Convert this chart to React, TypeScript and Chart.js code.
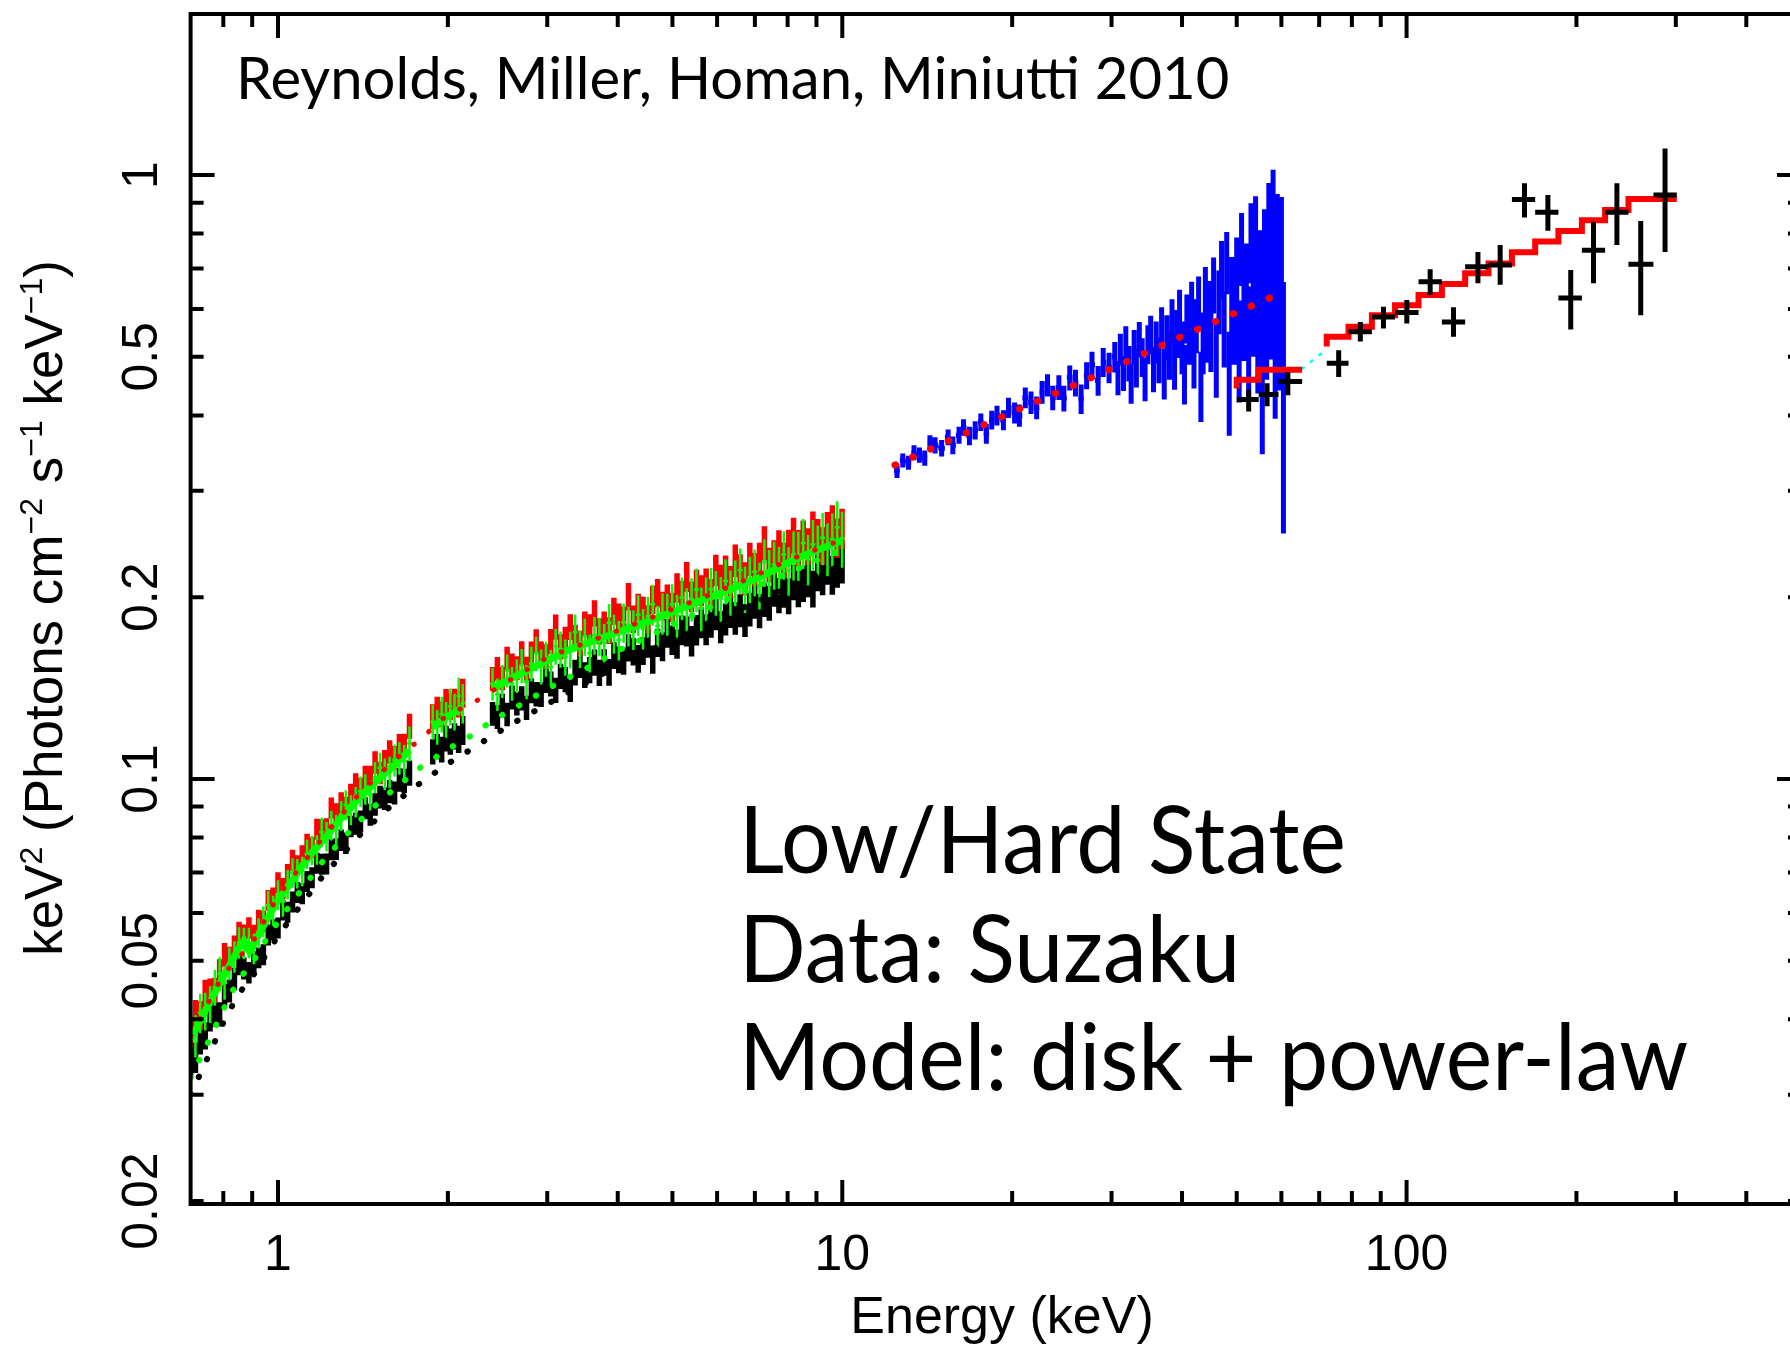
import React, { useEffect, useRef } from "react";
import { Chart, registerables } from "chart.js";

Chart.register(...registerables);

// ---------------- axis ranges ----------------
const X_MIN = 0.7;
const X_MAX = 500;
const Y_MIN = 0.01978;
const Y_MAX = 1.848;

const xMajorTicks = [1, 10, 100];
const xMinorTicks = [0.8, 0.9, 2, 3, 4, 5, 6, 7, 8, 9, 20, 30, 40, 50, 60, 70, 80, 90, 200, 300, 400, 500];
const xTickLabels = ["1", "10", "100"];
const yMajorTicks = [0.1, 1];
const yMinorTicks = [0.02, 0.03, 0.04, 0.05, 0.06, 0.07, 0.08, 0.09, 0.2, 0.3, 0.4, 0.5, 0.6, 0.7, 0.8, 0.9];
const yLabelValues = [1, 0.5, 0.2, 0.1, 0.05, 0.02];
const yTickLabels = ["1", "0.5", "0.2", "0.1", "0.05", "0.02"];

// ---------------- Suzaku XIS (0.7-10 keV) ----------------
const xisEnergy = [
  0.700, 0.714, 0.728, 0.743, 0.758, 0.773, 0.788, 0.804, 0.820, 0.837, 0.853, 0.870, 0.888, 0.906, 0.924, 0.942,
  0.961, 0.980, 1.000, 1.020, 1.040, 1.061, 1.082, 1.104, 1.126, 1.149, 1.172, 1.195, 1.219, 1.243, 1.268, 1.294,
  1.319, 1.346, 1.373, 1.400, 1.428, 1.457, 1.486, 1.516, 1.546, 1.577, 1.609, 1.641, 1.674, 1.710,
  1.880, 1.915, 1.950, 1.985, 2.020, 2.055, 2.090, 2.125,
  2.400, 2.448, 2.497, 2.547, 2.598, 2.650, 2.703, 2.757, 2.812, 2.868, 2.926, 2.984, 3.044, 3.105, 3.167, 3.230,
  3.295, 3.361, 3.428, 3.497, 3.567, 3.638, 3.711, 3.785, 3.861, 3.938, 4.017, 4.097, 4.179, 4.263, 4.348, 4.435,
  4.524, 4.614, 4.707, 4.801, 4.897, 4.995, 5.095, 5.197, 5.300, 5.406, 5.515, 5.625, 5.737, 5.852, 5.969, 6.089,
  6.211, 6.335, 6.462, 6.591, 6.723, 6.857, 6.994, 7.134, 7.277, 7.422, 7.571, 7.722, 7.877, 8.034, 8.195, 8.359,
  8.526, 8.697, 8.870, 9.048, 9.229, 9.413, 9.602, 9.794, 9.990,
];
const xisGreen = [
  0.0374, 0.0376, 0.0410, 0.0413, 0.0424, 0.0452, 0.0476, 0.0460, 0.0495, 0.0508, 0.0536, 0.0535, 0.0536, 0.0524, 0.0556, 0.0581,
  0.0618, 0.0606, 0.0643, 0.0627, 0.0669, 0.0700, 0.0698, 0.0704, 0.0751, 0.0763, 0.0764, 0.0817, 0.0804, 0.0838, 0.0825, 0.0870,
  0.0906, 0.0889, 0.0917, 0.0954, 0.0962, 0.0941, 0.1007, 0.1044, 0.1020, 0.1027, 0.1075, 0.1083, 0.1070, 0.1146,
  0.1244, 0.1220, 0.1281, 0.1256, 0.1319, 0.1293, 0.1372, 0.1336,
  0.1438, 0.1381, 0.1453, 0.1512, 0.1440, 0.1483, 0.1541, 0.1449, 0.1553, 0.1614, 0.1536, 0.1582, 0.1533, 0.1659, 0.1641, 0.1592,
  0.1639, 0.1749, 0.1644, 0.1722, 0.1617, 0.1730, 0.1723, 0.1683, 0.1814, 0.1741, 0.1699, 0.1817, 0.1793, 0.1769, 0.1871, 0.1775,
  0.1859, 0.1946, 0.1794, 0.1881, 0.1876, 0.1946, 0.1865, 0.1995, 0.1913, 0.1986, 0.2060, 0.1916, 0.1988, 0.2062, 0.2036, 0.1990,
  0.2127, 0.2039, 0.2117, 0.2216, 0.2065, 0.2144, 0.2203, 0.2094, 0.2288, 0.2199, 0.2264, 0.2219, 0.2354, 0.2215, 0.2350, 0.2346,
  0.2460, 0.2314, 0.2448, 0.2395, 0.2508, 0.2408, 0.2497, 0.2611, 0.2504,
];
const xisRed = [
  0.0381, 0.0407, 0.0406, 0.0442, 0.0445, 0.0447, 0.0481, 0.0512, 0.0505, 0.0528, 0.0557, 0.0551, 0.0567, 0.0551, 0.0584, 0.0581,
  0.0630, 0.0636, 0.0674, 0.0659, 0.0695, 0.0734, 0.0719, 0.0747, 0.0780, 0.0770, 0.0826, 0.0825, 0.0828, 0.0896, 0.0876, 0.0913,
  0.0898, 0.0943, 0.0981, 0.0963, 0.1009, 0.1009, 0.1066, 0.1024, 0.1071, 0.1110, 0.1086, 0.1136, 0.1136, 0.1224,
  0.1269, 0.1306, 0.1281, 0.1344, 0.1319, 0.1344, 0.1333, 0.1389,
  0.1466, 0.1524, 0.1468, 0.1585, 0.1542, 0.1527, 0.1616, 0.1524, 0.1614, 0.1691, 0.1614, 0.1597, 0.1691, 0.1786, 0.1657, 0.1705,
  0.1787, 0.1716, 0.1678, 0.1806, 0.1785, 0.1883, 0.1757, 0.1803, 0.1763, 0.1898, 0.1857, 0.1835, 0.2006, 0.1841, 0.1925, 0.1902,
  0.1841, 0.1983, 0.2034, 0.1936, 0.1989, 0.1927, 0.2074, 0.2014, 0.2164, 0.2005, 0.2099, 0.2054, 0.2107, 0.2022, 0.2218, 0.2133,
  0.2209, 0.2122, 0.2303, 0.2216, 0.2149, 0.2314, 0.2225, 0.2310, 0.2462, 0.2265, 0.2331, 0.2420, 0.2308, 0.2421, 0.2534, 0.2416,
  0.2507, 0.2432, 0.2591, 0.2515, 0.2436, 0.2578, 0.2644, 0.2512, 0.2603,
];
const xisBlack = [
  0.0340, 0.0346, 0.0370, 0.0376, 0.0402, 0.0408, 0.0408, 0.0441, 0.0446, 0.0467, 0.0494, 0.0486, 0.0478, 0.0498, 0.0506, 0.0512,
  0.0552, 0.0563, 0.0567, 0.0607, 0.0602, 0.0626, 0.0649, 0.0646, 0.0677, 0.0687, 0.0726, 0.0723, 0.0724, 0.0764, 0.0766, 0.0792,
  0.0783, 0.0835, 0.0844, 0.0851, 0.0895, 0.0873, 0.0908, 0.0934, 0.0928, 0.0954, 0.0949, 0.0997, 0.0994, 0.1024,
  0.1110, 0.1133, 0.1120, 0.1168, 0.1154, 0.1178, 0.1165, 0.1205,
  0.1283, 0.1267, 0.1324, 0.1280, 0.1366, 0.1335, 0.1361, 0.1313, 0.1401, 0.1383, 0.1381, 0.1456, 0.1438, 0.1404, 0.1480, 0.1462,
  0.1410, 0.1502, 0.1545, 0.1488, 0.1516, 0.1560, 0.1501, 0.1562, 0.1503, 0.1602, 0.1577, 0.1570, 0.1651, 0.1626, 0.1583, 0.1630,
  0.1677, 0.1579, 0.1683, 0.1657, 0.1745, 0.1700, 0.1675, 0.1765, 0.1758, 0.1694, 0.1766, 0.1817, 0.1769, 0.1822, 0.1875, 0.1787,
  0.1841, 0.1895, 0.1847, 0.1903, 0.1833, 0.1911, 0.1968, 0.1900, 0.1983, 0.1957, 0.2065, 0.2017, 0.2059, 0.2010, 0.2120, 0.2067,
  0.2109, 0.2149, 0.2068, 0.2203, 0.2171, 0.2262, 0.2179, 0.2241, 0.2281,
];
// fractional errors: black / red detectors
const xisErr = [
  0.06, 0.058, 0.055, 0.052, 0.05, 0.048, 0.046, 0.045, 0.044, 0.043, 0.042, 0.042, 0.041, 0.041, 0.04, 0.04,
  0.04, 0.04, 0.04, 0.04, 0.04, 0.04, 0.04, 0.04, 0.04, 0.04, 0.04, 0.04, 0.04, 0.04, 0.041, 0.041,
  0.041, 0.041, 0.042, 0.042, 0.042, 0.042, 0.043, 0.043, 0.043, 0.044, 0.044, 0.045, 0.046, 0.048,
  0.048, 0.048, 0.049, 0.049, 0.05, 0.05, 0.052, 0.055,
  0.045, 0.045, 0.045, 0.045, 0.046, 0.046, 0.046, 0.046, 0.047, 0.047, 0.047, 0.047, 0.048, 0.048, 0.048, 0.048,
  0.049, 0.049, 0.049, 0.049, 0.05, 0.05, 0.05, 0.05, 0.051, 0.051, 0.051, 0.052, 0.052, 0.052, 0.053, 0.053,
  0.053, 0.054, 0.054, 0.055, 0.055, 0.056, 0.056, 0.057, 0.057, 0.058, 0.058, 0.059, 0.059, 0.06, 0.06, 0.061,
  0.061, 0.062, 0.062, 0.063, 0.063, 0.064, 0.064, 0.065, 0.065, 0.066, 0.066, 0.067, 0.067, 0.068, 0.068, 0.069,
  0.069, 0.07, 0.07, 0.071, 0.072, 0.073, 0.074, 0.075, 0.076,
];
// fractional errors: green detector
const xisErrGreen = [
  0.085, 0.08, 0.075, 0.072, 0.07, 0.068, 0.065, 0.063, 0.062, 0.06, 0.06, 0.06, 0.058, 0.058, 0.058, 0.058,
  0.057, 0.057, 0.057, 0.057, 0.056, 0.056, 0.056, 0.056, 0.056, 0.056, 0.056, 0.056, 0.056, 0.056, 0.057, 0.057,
  0.057, 0.057, 0.058, 0.058, 0.058, 0.058, 0.059, 0.059, 0.06, 0.06, 0.061, 0.062, 0.064, 0.066,
  0.066, 0.066, 0.068, 0.068, 0.07, 0.07, 0.072, 0.075,
  0.062, 0.062, 0.063, 0.063, 0.064, 0.064, 0.065, 0.065, 0.066, 0.066, 0.067, 0.067, 0.068, 0.068, 0.069, 0.069,
  0.07, 0.07, 0.071, 0.071, 0.072, 0.072, 0.073, 0.073, 0.074, 0.074, 0.075, 0.075, 0.076, 0.076, 0.077, 0.077,
  0.078, 0.078, 0.079, 0.079, 0.08, 0.08, 0.081, 0.081, 0.082, 0.082, 0.083, 0.083, 0.084, 0.084, 0.085, 0.085,
  0.086, 0.086, 0.087, 0.087, 0.088, 0.088, 0.089, 0.089, 0.09, 0.09, 0.091, 0.091, 0.092, 0.092, 0.093, 0.094,
  0.095, 0.096, 0.097, 0.098, 0.099, 0.1, 0.102, 0.104, 0.106,
];
// folded model through the green detector (solid green line); null = not drawn
const xisModelE = [
  0.70, 0.75, 0.80, 0.85, 0.87, 0.89, 0.92, 0.96, 1.00, 1.05, 1.10, 1.15, 1.20, 1.30, 1.40, 1.50, 1.60, 1.71,
  1.80, 1.88, 2.00, 2.125, 2.25,
  2.40, 2.60, 2.80, 3.00, 3.30, 3.60, 4.00, 4.50, 5.00, 5.50, 6.00, 6.50, 7.00, 7.50, 8.00, 8.50, 9.00, 9.50, 9.99,
];
const xisModelV = [
  0.0370, 0.0420, 0.0470, 0.0522, 0.0540, 0.0518, 0.0548, 0.0590, 0.0630, 0.0670, 0.0715, 0.0755, 0.0790, 0.0865, 0.0935, 0.0995, 0.1050, 0.1115,
  null, 0.1220, 0.1270, 0.1315, null,
  0.141, 0.147, 0.152, 0.157, 0.164, 0.169, 0.175, 0.182, 0.189, 0.196, 0.202, 0.208, 0.214, 0.221, 0.228, 0.234, 0.239, 0.244, 0.248,
];

// dotted model curves across the XIS band
const dotModelE = [0.70, 0.75, 0.80, 0.85, 0.90, 0.95, 1.00, 1.10, 1.20, 1.30, 1.40, 1.50, 1.60, 1.70, 1.80, 2.00, 2.20, 2.40, 2.70, 3.00, 3.50, 4.00, 5.00, 6.00, 7.00, 8.00, 9.00, 10.0];
const dotModelBlack = [0.0300, 0.0345, 0.0395, 0.0440, 0.0470, 0.0510, 0.0550, 0.0620, 0.0690, 0.0750, 0.0810, 0.0860, 0.0910, 0.0950, 0.0990, 0.1060, 0.1120, 0.1180, 0.1260, 0.1330, 0.1440, 0.1540, 0.1700, 0.1840, 0.1960, 0.2070, 0.2170, 0.2260];
const dotModelGreen = [0.0320, 0.0365, 0.0415, 0.0465, 0.0495, 0.0540, 0.0580, 0.0655, 0.0730, 0.0795, 0.0855, 0.0910, 0.0960, 0.1005, 0.1050, 0.1120, 0.1180, 0.1250, 0.1330, 0.1410, 0.1520, 0.1630, 0.1800, 0.1950, 0.2080, 0.2190, 0.2300, 0.2400];
const dotModelRedE = [0.70, 0.80, 0.90, 1.00, 1.20, 1.40, 1.60, 1.80, 2.00, 2.20, 2.40, 3.00, 4.00, 5.00, 6.00, 7.00, 8.00, 9.00, 10.0];
const dotModelRed = [0.0375, 0.0475, 0.0535, 0.0640, 0.0800, 0.0950, 0.1070, 0.1170, 0.1280, 0.1330, 0.1400, 0.1590, 0.1760, 0.1910, 0.2040, 0.2170, 0.2300, 0.2400, 0.2490];

// ---------------- HXD-PIN (12-60 keV) ----------------
const pinEnergy = [
  12.5, 12.8, 13.1, 13.4, 13.7, 14.0, 14.3, 14.6, 15.0, 15.4, 15.7, 16.1, 16.4, 16.8, 17.2, 17.6, 18.0, 18.4, 18.8, 19.3,
  19.7, 20.2, 20.6, 21.1, 21.6, 22.1, 22.6, 23.1, 23.6, 24.2, 24.7, 25.3, 25.9, 26.5, 27.1, 27.7, 28.4, 29.0, 29.7,
  30.4, 30.8, 31.1, 31.5, 31.8, 32.2, 32.5, 32.9, 33.2, 33.6, 34.0, 34.4, 34.8, 35.2, 35.6, 36.0, 36.4, 36.8, 37.2,
  37.6, 38.0, 38.4, 38.8, 39.2, 39.6, 40.0, 40.4, 40.8, 41.2, 41.6, 42.0, 42.4, 42.8, 43.2, 43.6, 44.0, 44.4, 44.7,
  45.0, 45.5, 46.0, 46.5, 47.0, 47.5, 48.0, 48.5, 49.0, 49.5, 50.0, 50.5, 51.0, 51.5, 52.0, 52.5,
  53.0, 53.5, 54.0, 54.5, 55.0, 55.5, 56.0, 56.5, 57.0, 57.5, 58.0, 58.5, 59.0, 59.5, 60.0, 60.5,
];
const pinValue = [
  0.324, 0.337, 0.334, 0.347, 0.344, 0.340, 0.361, 0.357, 0.353, 0.368, 0.357, 0.371, 0.382, 0.370, 0.378, 0.390, 0.373, 0.393, 0.400, 0.393,
  0.412, 0.404, 0.400, 0.428, 0.420, 0.412, 0.437, 0.449, 0.428, 0.445, 0.427, 0.462, 0.453, 0.426, 0.466, 0.485, 0.457, 0.490, 0.480,
  0.500, 0.462, 0.515, 0.470, 0.530, 0.488, 0.452, 0.520, 0.480, 0.535, 0.500, 0.460, 0.525, 0.545, 0.478, 0.530, 0.495, 0.560, 0.470,
  0.540, 0.505, 0.575, 0.490, 0.548, 0.595, 0.520, 0.470, 0.580, 0.540, 0.610, 0.500, 0.565, 0.620, 0.450, 0.530, 0.640, 0.555, 0.600,
  0.540, 0.660, 0.500, 0.620, 0.700, 0.560, 0.720, 0.460, 0.640, 0.580, 0.690, 0.520, 0.760, 0.600, 0.660, 0.540,
  0.780, 0.620, 0.800, 0.560, 0.680, 0.480, 0.740, 0.600, 0.820, 0.650, 0.860, 0.560, 0.760, 0.620, 0.720, 0.460,
];
const pinError = [
  0.009, 0.009, 0.009, 0.010, 0.010, 0.010, 0.010, 0.011, 0.011, 0.011, 0.012, 0.012, 0.012, 0.013, 0.013, 0.013, 0.014, 0.014, 0.015, 0.015,
  0.016, 0.016, 0.017, 0.017, 0.018, 0.018, 0.019, 0.019, 0.020, 0.021, 0.021, 0.022, 0.023, 0.024, 0.024, 0.025, 0.026, 0.027, 0.028,
  0.029, 0.030, 0.031, 0.031, 0.032, 0.033, 0.034, 0.034, 0.035, 0.036, 0.037, 0.038, 0.039, 0.040, 0.041, 0.042, 0.043, 0.044, 0.045,
  0.046, 0.047, 0.048, 0.049, 0.050, 0.051, 0.052, 0.053, 0.054, 0.055, 0.056, 0.057, 0.058, 0.059, 0.060, 0.062, 0.064, 0.066, 0.068,
  0.068, 0.070, 0.072, 0.075, 0.078, 0.080, 0.085, 0.090, 0.092, 0.095, 0.098, 0.100, 0.105, 0.108, 0.110, 0.114,
  0.118, 0.120, 0.122, 0.125, 0.130, 0.135, 0.138, 0.142, 0.150, 0.155, 0.160, 0.165, 0.170, 0.180, 0.200, 0.205,
];
const pinModelE = [12.4, 20.0, 27.8, 40.0, 61.3];
const pinModelV = [0.331, 0.405, 0.463, 0.541, 0.644];

// ---------------- HXD-GSO ----------------
const gsoLowEdges = [50.0, 54.7, 59.3, 65.3];
const gsoLowModel = [0.443, 0.458, 0.476];
const gsoLowE = [52.5, 56.6, 61.6];
const gsoLowV = [0.425, 0.433, 0.455];
const gsoLowLo = [0.406, 0.414, 0.432];
const gsoLowHi = [0.441, 0.452, 0.472];

const gsoEdges = [72.2, 78.9, 86.8, 95.4, 105.0, 115.5, 127.0, 139.7, 153.7, 169.0, 185.8, 204.5, 224.8, 247.3, 273.8, 301.2];
const gsoModel = [0.520, 0.540, 0.561, 0.586, 0.609, 0.633, 0.660, 0.688, 0.714, 0.745, 0.776, 0.808, 0.842, 0.875, 0.913];
const gsoE = [75.8, 82.8, 91.0, 100.1, 110.1, 121.1, 133.8, 146.5, 161.8, 178.0, 195.4, 214.4, 235.9, 260.0, 287.1];
const gsoV = [0.488, 0.550, 0.582, 0.592, 0.666, 0.571, 0.705, 0.710, 0.911, 0.868, 0.626, 0.751, 0.868, 0.712, 0.927];
const gsoLo = [0.463, 0.530, 0.557, 0.568, 0.633, 0.540, 0.662, 0.658, 0.851, 0.809, 0.555, 0.662, 0.766, 0.586, 0.746];
const gsoHi = [0.513, 0.571, 0.605, 0.621, 0.698, 0.604, 0.746, 0.766, 0.969, 0.927, 0.696, 0.837, 0.969, 0.839, 1.107];

const bridgeE = [65.3, 72.2];
const bridgeV = [0.478, 0.515];

// ---------------- texts ----------------
const creditText = "Reynolds, Miller, Homan, Miniutti 2010";
const stateLines = ["Low/Hard State", "Data: Suzaku", "Model: disk + power-law"];
const xTitle = "Energy (keV)";
const yTitleParts: [string, boolean][] = [
  ["keV", false], ["2", true], [" (Photons cm", false], ["\u22122", true],
  [" s", false], ["\u22121", true], [" keV", false], ["\u22121", true], [")", false],
];

// ---------------- helpers ----------------
const isBreak = (a: number, b: number) => b / a > 1.06;

function binBounds(E: number[]) {
  return E.map((e, i) => {
    const prev = i > 0 && !isBreak(E[i - 1], e) ? E[i - 1] : null;
    const next = i < E.length - 1 && !isBreak(e, E[i + 1]) ? E[i + 1] : null;
    const lo = prev ? Math.sqrt(prev * e) : next ? e * Math.sqrt(e / next) : e * 0.99;
    const hi = next ? Math.sqrt(next * e) : prev ? e * Math.sqrt(e / prev) : e * 1.01;
    return [lo, hi];
  });
}

function xisBars(vals: number[], errs: number[]) {
  const b = binBounds(xisEnergy);
  const out: any[] = [];
  xisEnergy.forEach((e, i) => {
    const v = vals[i];
    const er = errs[i];
    if (v == null || er == null) return;
    out.push({ x: e, y: v, lo: v * (1 - er), hi: v * (1 + er), xlo: b[i][0], xhi: b[i][1] });
  });
  return out;
}

function steps(edges: number[], vals: number[]) {
  const p = vals.map((v, i) => ({ x: edges[i], y: v }));
  p.push({ x: edges[edges.length - 1], y: vals[vals.length - 1] });
  return p;
}

const pts = (E: number[], V: (number | null)[]) => E.map((e, i) => ({ x: e, y: V[i] }));

function errDataset(label: string, bars: any[], color: string, width: number, order: number) {
  return {
    type: "scatter" as const,
    label,
    data: bars.map((b) => ({ x: b.x, y: b.y })),
    bars,
    barColor: color,
    barWidth: width,
    pointRadius: 0,
    showLine: false,
    order,
  };
}

function lineDataset(label: string, data: any[], color: string, width: number, order: number, dotted: boolean, extra: any = {}) {
  return {
    type: "line" as const,
    label,
    data,
    borderColor: color,
    backgroundColor: color,
    borderWidth: width,
    borderDash: dotted ? [0.5, 19] : [],
    borderCapStyle: dotted ? "round" : "butt",
    borderJoinStyle: "miter",
    pointRadius: 0,
    fill: false,
    tension: 0,
    spanGaps: false,
    order,
    ...extra,
  };
}

// ---------------- plugins ----------------
const errorBarPlugin = {
  id: "errorBars",
  afterDatasetDraw(chart: any, args: any) {
    const ds = chart.data.datasets[args.index];
    if (!ds.bars) return;
    const { ctx, chartArea, scales } = chart;
    const xs = scales.x;
    const ys = scales.y;
    ctx.save();
    ctx.beginPath();
    ctx.rect(chartArea.left, chartArea.top, chartArea.right - chartArea.left, chartArea.bottom - chartArea.top);
    ctx.clip();
    ctx.strokeStyle = ds.barColor;
    ctx.lineWidth = ds.barWidth;
    ctx.lineCap = "butt";
    ctx.beginPath();
    for (const b of ds.bars) {
      const px = xs.getPixelForValue(b.x);
      ctx.moveTo(px, ys.getPixelForValue(b.lo));
      ctx.lineTo(px, ys.getPixelForValue(b.hi));
      const py = ys.getPixelForValue(b.y);
      ctx.moveTo(xs.getPixelForValue(b.xlo), py);
      ctx.lineTo(xs.getPixelForValue(b.xhi), py);
    }
    ctx.stroke();
    ctx.restore();
  },
};

function drawCondensed(ctx: CanvasRenderingContext2D, text: string, x: number, y: number, sx: number) {
  ctx.save();
  ctx.translate(x, y);
  ctx.scale(sx, 1);
  ctx.fillText(text, 0, 0);
  ctx.restore();
}

const framePlugin = {
  id: "frame",
  afterDraw(chart: any) {
    const { ctx, chartArea, scales } = chart;
    const xs = scales.x;
    const ys = scales.y;
    const { left, right, top, bottom } = chartArea;
    ctx.save();
    ctx.strokeStyle = "#000";
    ctx.fillStyle = "#000";
    ctx.lineWidth = 4;
    ctx.lineCap = "butt";
    ctx.strokeRect(left, top, right - left, bottom - top);

    const MAJ = 24;
    const MIN = 13;
    ctx.beginPath();
    const xt = (v: number, len: number) => {
      const p = xs.getPixelForValue(v);
      ctx.moveTo(p, bottom);
      ctx.lineTo(p, bottom - len);
      ctx.moveTo(p, top);
      ctx.lineTo(p, top + len);
    };
    xMajorTicks.forEach((v) => xt(v, MAJ));
    xMinorTicks.forEach((v) => xt(v, MIN));
    const yt = (v: number, len: number) => {
      const p = ys.getPixelForValue(v);
      ctx.moveTo(left, p);
      ctx.lineTo(left + len, p);
      ctx.moveTo(right, p);
      ctx.lineTo(right - len, p);
    };
    yMajorTicks.forEach((v) => yt(v, MAJ));
    yMinorTicks.forEach((v) => yt(v, MIN));
    ctx.stroke();

    // tick labels
    ctx.font = '50px "Liberation Sans", Arial, sans-serif';
    ctx.textAlign = "center";
    ctx.textBaseline = "alphabetic";
    xMajorTicks.forEach((v, i) => {
      ctx.fillText(xTickLabels[i], xs.getPixelForValue(v), 1270);
    });
    yLabelValues.forEach((v, i) => {
      ctx.save();
      ctx.translate(157, ys.getPixelForValue(v));
      ctx.rotate(-Math.PI / 2);
      ctx.fillText(yTickLabels[i], 0, 0);
      ctx.restore();
    });

    // x title
    ctx.font = '52px "Liberation Sans", Arial, sans-serif';
    ctx.fillText(xTitle, 1002, 1333);

    // y title with superscripts
    const baseFont = '53px "Liberation Sans", Arial, sans-serif';
    const supFont = '32px "Liberation Sans", Arial, sans-serif';
    let total = 0;
    const widths = yTitleParts.map(([t, sup]) => {
      ctx.font = sup ? supFont : baseFont;
      const w = ctx.measureText(t).width;
      total += w;
      return w;
    });
    ctx.save();
    ctx.translate(62, 608);
    ctx.rotate(-Math.PI / 2);
    ctx.textAlign = "left";
    let cx = -total / 2;
    yTitleParts.forEach(([t, sup], i) => {
      ctx.font = sup ? supFont : baseFont;
      ctx.fillText(t, cx, sup ? -20 : 0);
      cx += widths[i];
    });
    ctx.restore();

    // annotations
    ctx.textAlign = "left";
    ctx.font = '58px Lato, "Open Sans", sans-serif';
    ctx.fillText(creditText, 236, 99);
    ctx.font = '94px Lato, "Open Sans", sans-serif';
    const baselines = [873, 982, 1090];
    stateLines.forEach((t, i) => drawCondensed(ctx, t, 739, baselines[i], 0.935));
    ctx.restore();
  },
};

// ---------------- datasets ----------------
function buildDatasets() {
  const pinB = binBounds(pinEnergy);
  return [
    errDataset("XIS black", xisBars(xisBlack, xisErr), "#000000", 5.5, 30),
    errDataset("XIS red", xisBars(xisRed, xisErr), "#ff0000", 5.5, 29),
    errDataset("XIS green", xisBars(xisGreen, xisErrGreen), "#00ff00", 2.5, 28),
    lineDataset("XIS model", pts(xisModelE, xisModelV), "#00ff00", 7, 27, false),
    lineDataset("model black", pts(dotModelE, dotModelBlack), "#000000", 6, 26, true),
    lineDataset("model green", pts(dotModelE, dotModelGreen), "#00ff00", 6, 25, true),
    lineDataset("model red", pts(dotModelRedE, dotModelRed), "#ff0000", 5, 24, true),
    errDataset(
      "PIN",
      pinEnergy.map((e, i) => ({
        x: e, y: pinValue[i], lo: pinValue[i] - pinError[i], hi: pinValue[i] + pinError[i], xlo: pinB[i][0], xhi: pinB[i][1],
      })),
      "#0000ff",
      5,
      23
    ),
    lineDataset("PIN model", pts(pinModelE, pinModelV), "#ff0000", 7, 22, true),
    lineDataset("bridge", pts(bridgeE, bridgeV), "#00ffff", 2.5, 21, true, { borderDash: [2, 9] }),
    lineDataset("GSO low model", steps(gsoLowEdges, gsoLowModel), "#ff0000", 6, 20, false, { stepped: "after" }),
    errDataset(
      "GSO low",
      gsoLowE.map((e, i) => ({ x: e, y: gsoLowV[i], lo: gsoLowLo[i], hi: gsoLowHi[i], xlo: gsoLowEdges[i], xhi: gsoLowEdges[i + 1] })),
      "#000000",
      5,
      19
    ),
    lineDataset("GSO model", steps(gsoEdges, gsoModel), "#ff0000", 6, 18, false, { stepped: "after" }),
    errDataset(
      "GSO",
      gsoE.map((e, i) => ({ x: e, y: gsoV[i], lo: gsoLo[i], hi: gsoHi[i], xlo: gsoEdges[i], xhi: gsoEdges[i + 1] })),
      "#000000",
      5,
      17
    ),
  ];
}

export default function App() {
  const ref = useRef<HTMLCanvasElement>(null);
  useEffect(() => {
    const canvas = ref.current;
    if (!canvas) return;
    const chart = new Chart(canvas, {
      type: "scatter",
      data: { datasets: buildDatasets() as any },
      options: {
        responsive: false,
        maintainAspectRatio: false,
        animation: false,
        devicePixelRatio: 1,
        layout: { padding: { left: 190.6, right: 29, top: 14, bottom: 143 } },
        plugins: { legend: { display: false }, tooltip: { enabled: false }, title: { display: false } },
        scales: {
          x: { type: "logarithmic", min: X_MIN, max: X_MAX, display: false },
          y: { type: "logarithmic", min: Y_MIN, max: Y_MAX, display: false },
        },
      } as any,
      plugins: [errorBarPlugin, framePlugin],
    });
    return () => chart.destroy();
  }, []);
  return (
    <div style={{ position: "fixed", left: 0, top: 0, width: 1790, height: 1347, overflow: "hidden", background: "#ffffff" }}>
      <canvas ref={ref} width={1830} height={1347} style={{ display: "block", width: 1830, height: 1347 }} />
    </div>
  );
}
